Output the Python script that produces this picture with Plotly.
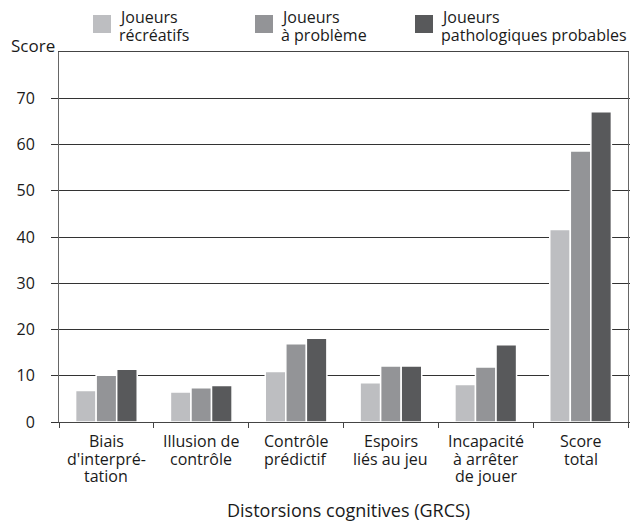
import plotly.graph_objects as go

categories = [
    "Biais<br>d'interpré-<br>tation",
    "Illusion de<br>contrôle",
    "Contrôle<br>prédictif",
    "Espoirs<br>liés au jeu",
    "Incapacité<br>à arrêter<br>de jouer",
    "Score<br>total",
]
series_names = [
    "Joueurs<br>récréatifs",
    "Joueurs<br>à problème",
    "Joueurs<br>pathologiques probables",
]
recreatifs = [6.8, 6.5, 10.9, 8.5, 8.1, 41.6]
probleme = [10.1, 7.4, 16.9, 12.1, 11.9, 58.6]
pathologiques = [11.4, 7.9, 18.1, 12.1, 16.7, 67.1]
colors = ["#bdbec1", "#939497", "#58595b"]
y_ticks = [0, 10, 20, 30, 40, 50, 60, 70]
x_title = "Distorsions cognitives (GRCS)"
y_title = "Score"

FONT = "Open Sans"
TXT = "#1a1a1a"

fig = go.Figure()
for name, vals, col in zip(series_names, [recreatifs, probleme, pathologiques], colors):
    fig.add_trace(go.Bar(
        x=categories, y=vals, name=name,
        marker=dict(color=col, line=dict(color="white", width=1.5)),
        showlegend=False,
    ))

W, H = 630, 521
ml, mr, mt, mb = 59, 2, 52, 99
pw = W - ml - mr
ph = H - mt - mb

def px_x(px):
    return (px - ml) / pw

def px_y(py):
    return (H - mb - py) / ph

shapes = []
annotations = []

def line_text(text, x, baseline, size, xanchor="left", xref="paper"):
    annotations.append(dict(
        xref=xref, yref="paper", x=x, y=px_y(baseline - 0.33 * size),
        xanchor=xanchor, yanchor="middle", text=text, showarrow=False,
        borderpad=0, font=dict(family=FONT, size=size, color=TXT)))

# legend (drawn manually to match the reference's large swatches)
leg_x = [93, 255, 415]
for lx, name, col in zip(leg_x, series_names, colors):
    shapes.append(dict(type="rect", xref="paper", yref="paper",
                       x0=px_x(lx), x1=px_x(lx + 18), y0=px_y(33), y1=px_y(15),
                       fillcolor=col, line=dict(width=0)))
    for i, ln in enumerate(name.split("<br>")):
        line_text(ln, px_x(lx + 25), 22.7 + 18 * i, 16)

# y title
line_text(y_title, px_x(56), 51, 17, xanchor="right")

# category labels (line spacing of the reference)
for cat in categories:
    for i, ln in enumerate(cat.split("<br>")):
        line_text(ln, cat, 446.7 + 17.5 * i, 16, xanchor="center", xref="x")

# x title
line_text(x_title, px_x(348), 516, 18, xanchor="center")

fig.update_layout(
    width=W, height=H,
    margin=dict(l=ml, r=mr, t=mt, b=mb),
    paper_bgcolor="white", plot_bgcolor="white",
    barmode="group", bargap=0.35, bargroupgap=0,
    font=dict(family=FONT, size=16, color=TXT),
    shapes=shapes, annotations=annotations,
    xaxis=dict(
        automargin=False,
        showline=True, linecolor="#444", linewidth=1, mirror=True,
        ticks="outside", tickson="boundaries", ticklen=5, tickcolor="#444",
        showticklabels=False,
    ),
    yaxis=dict(
        automargin=False,
        range=[0, 80], tickvals=y_ticks,
        showline=True, linecolor="#666", linewidth=1, mirror="ticks",
        ticks="outside", ticklen=7, tickcolor="#333",
        showgrid=True, gridcolor="#333", gridwidth=1, zeroline=False,
        ticklabelstandoff=13,
        tickfont=dict(family=FONT, size=16, color=TXT),
    ),
)

fig.write_html(
    "out.html",
    config={"displayModeBar": False},
    post_script="document.body.style.margin='0';document.body.style.overflow='hidden';",
)
